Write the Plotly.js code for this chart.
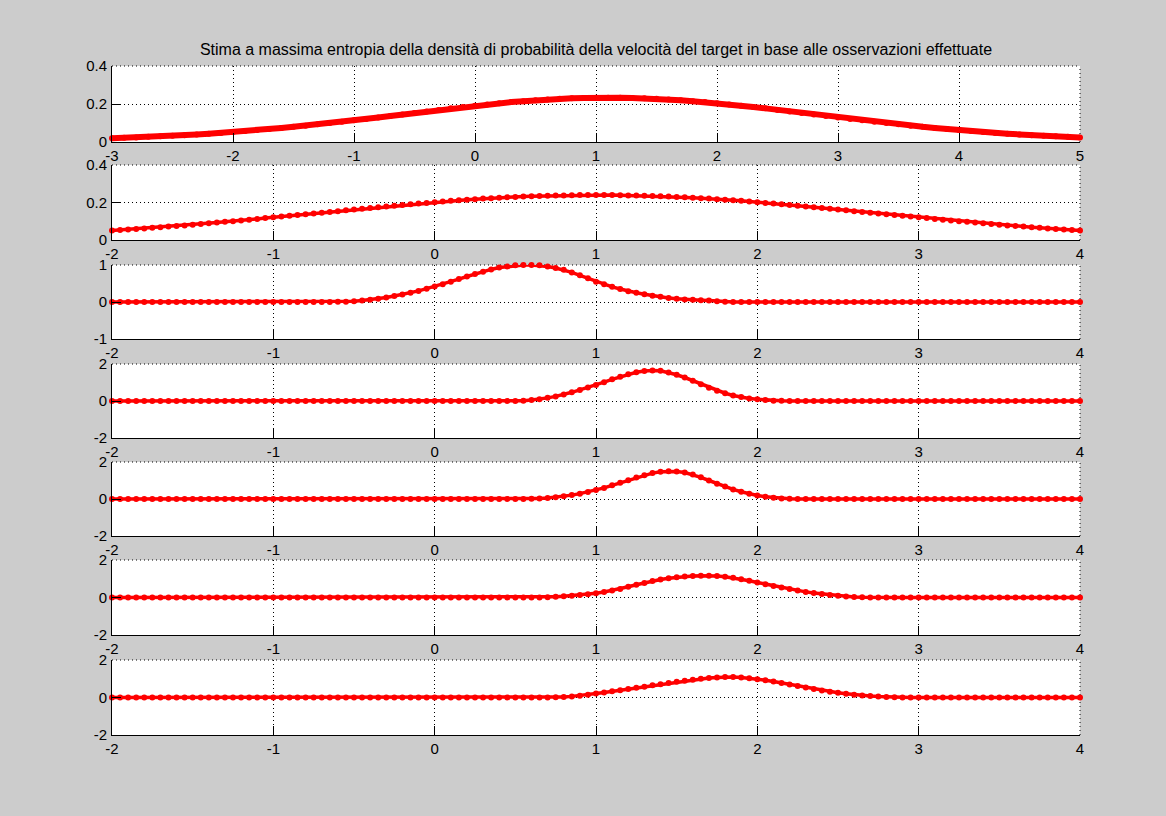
<!DOCTYPE html>
<html>
<head>
<meta charset="utf-8">
<script src="https://cdn.plot.ly/plotly-3.0.1.min.js"></script>
<style>html,body{margin:0;padding:0;background:#cccccc;}#chart{width:1166px;height:816px;}</style>
</head>
<body>
<div id="chart"></div>
<script>
// ---------- DATA ----------
const titleText = "Stima a massima entropia della densità di probabilità della velocità del target in base alle osservazioni effettuate";

// x grid of the first panel (-3 .. 5)
const x1 = [-3,-2.9,-2.8,-2.7,-2.6,-2.5,-2.4,-2.3,-2.2,-2.1,
-2,-1.9,-1.8,-1.7,-1.6,-1.5,-1.4,-1.3,-1.2,-1.1,
-1,-0.9,-0.8,-0.7,-0.6,-0.5,-0.4,-0.3,-0.2,-0.1,
0,0.1,0.2,0.3,0.4,0.5,0.6,0.7,0.8,0.9,
1,1.1,1.2,1.3,1.4,1.5,1.6,1.7,1.8,1.9,
2,2.1,2.2,2.3,2.4,2.5,2.6,2.7,2.8,2.9,
3,3.1,3.2,3.3,3.4,3.5,3.6,3.7,3.8,3.9,
4,4.1,4.2,4.3,4.4,4.5,4.6,4.7,4.8,4.9,
5];
const y1 = [.020,.022,.024,.027,.030,.033,.036,.040,.044,.048,
.053,.058,.063,.068,.074,.080,.086,.093,.100,.107,
.114,.121,.129,.137,.145,.153,.161,.169,.177,.184,
.191,.198,.204,.210,.215,.220,.224,.227,.230,.231,
.233,.233,.233,.231,.230,.227,.224,.220,.215,.210,
.204,.198,.191,.184,.177,.169,.161,.153,.145,.137,
.129,.121,.114,.107,.100,.093,.086,.080,.074,.068,
.063,.058,.053,.048,.044,.040,.036,.033,.030,.027,
.024];

// x grid of panels 2..7 (-2 .. 4)
const x2 = [-2,-1.95,-1.9,-1.85,-1.8,-1.75,-1.7,-1.65,-1.6,-1.55,
-1.5,-1.45,-1.4,-1.35,-1.3,-1.25,-1.2,-1.15,-1.1,-1.05,
-1,-0.95,-0.9,-0.85,-0.8,-0.75,-0.7,-0.65,-0.6,-0.55,
-0.5,-0.45,-0.4,-0.35,-0.3,-0.25,-0.2,-0.15,-0.1,-0.05,
0,0.05,0.1,0.15,0.2,0.25,0.3,0.35,0.4,0.45,
0.5,0.55,0.6,0.65,0.7,0.75,0.8,0.85,0.9,0.95,
1,1.05,1.1,1.15,1.2,1.25,1.3,1.35,1.4,1.45,
1.5,1.55,1.6,1.65,1.7,1.75,1.8,1.85,1.9,1.95,
2,2.05,2.1,2.15,2.2,2.25,2.3,2.35,2.4,2.45,
2.5,2.55,2.6,2.65,2.7,2.75,2.8,2.85,2.9,2.95,
3,3.05,3.1,3.15,3.2,3.25,3.3,3.35,3.4,3.45,
3.5,3.55,3.6,3.65,3.7,3.75,3.8,3.85,3.9,3.95,
4];

const y2 = [.051,.054,.056,.059,.062,.065,.068,.072,.075,.078,
.082,.085,.089,.093,.097,.100,.104,.108,.112,.117,
.121,.125,.129,.133,.137,.142,.146,.150,.154,.159,
.163,.167,.171,.175,.179,.183,.187,.191,.195,.198,
.202,.205,.209,.212,.215,.218,.221,.223,.226,.228,
.230,.232,.234,.235,.236,.237,.238,.239,.240,.240,
.240,.240,.240,.239,.238,.237,.236,.235,.234,.232,
.230,.228,.226,.223,.221,.218,.215,.212,.209,.205,
.202,.198,.195,.191,.187,.183,.179,.175,.171,.167,
.163,.159,.154,.150,.146,.142,.137,.133,.129,.125,
.121,.117,.112,.108,.104,.100,.097,.093,.089,.085,
.082,.078,.075,.072,.068,.065,.062,.059,.056,.054,
.051];

const y3 = [0,0,0,0,0,0,0,0,0,0,
0,0,0,0,0,0,0,0,0,0,
0,0,0,0,0,0,0,0,.005,.01,
.02,.04,.06,.09,.12,.16,.20,.25,.30,.36,
.42,.48,.55,.62,.69,.76,.82,.88,.93,.96,
.99,1.00,1.00,.99,.96,.92,.87,.80,.72,.64,
.55,.48,.41,.35,.29,.25,.21,.17,.14,.11,
.09,.07,.06,.05,.04,.02,.01,0,0,0,
0,0,0,0,0,0,0,0,0,0,
0,0,0,0,0,0,0,0,0,0,
0,0,0,0,0,0,0,0,0,0,
0,0,0,0,0,0,0,0,0,0,
0];

const y4 = [0,0,0,0,0,0,0,0,0,0,
0,0,0,0,0,0,0,0,0,0,
0,0,0,0,0,0,0,0,0,0,
0,0,0,0,0,0,0,0,0,0,
0,0,0,0,0,0,0,0,0,0,
0,.02,.05,.10,.17,.25,.35,.47,.60,.73,
.87,1.02,1.17,1.31,1.44,1.55,1.62,1.65,1.63,1.54,
1.42,1.27,1.10,.90,.72,.56,.42,.30,.21,.14,
.09,.05,.02,.01,0,0,0,0,0,0,
0,0,0,0,0,0,0,0,0,0,
0,0,0,0,0,0,0,0,0,0,
0,0,0,0,0,0,0,0,0,0,
0];

const y5 = [0,0,0,0,0,0,0,0,0,0,
0,0,0,0,0,0,0,0,0,0,
0,0,0,0,0,0,0,0,0,0,
0,0,0,0,0,0,0,0,0,0,
0,0,0,0,0,0,0,0,0,0,
0,0,.01,.03,.06,.10,.15,.21,.29,.38,
.48,.60,.74,.88,1.02,1.16,1.29,1.40,1.47,1.50,
1.49,1.43,1.32,1.17,1.00,.83,.67,.52,.39,.28,
.19,.12,.07,.03,.01,0,0,0,0,0,
0,0,0,0,0,0,0,0,0,0,
0,0,0,0,0,0,0,0,0,0,
0,0,0,0,0,0,0,0,0,0,
0];

const y6 = [0,0,0,0,0,0,0,0,0,0,
0,0,0,0,0,0,0,0,0,0,
0,0,0,0,0,0,0,0,0,0,
0,0,0,0,0,0,0,0,0,0,
0,0,0,0,0,0,0,0,0,0,
0,0,0,0,.02,.04,.07,.10,.14,.18,
.23,.29,.37,.46,.57,.68,.78,.88,.96,1.03,
1.08,1.12,1.15,1.16,1.16,1.15,1.11,1.05,.97,.89,
.80,.71,.62,.53,.45,.37,.30,.24,.19,.14,
.10,.06,.03,.01,0,0,0,0,0,0,
0,0,0,0,0,0,0,0,0,0,
0,0,0,0,0,0,0,0,0,0,
0];

const y7 = [0,0,0,0,0,0,0,0,0,0,
0,0,0,0,0,0,0,0,0,0,
0,0,0,0,0,0,0,0,0,0,
0,0,0,0,0,0,0,0,0,0,
0,0,0,0,0,0,0,0,0,0,
0,0,0,0,0,.01,.03,.06,.10,.15,
.21,.27,.33,.39,.45,.52,.58,.65,.71,.77,
.84,.90,.95,1.00,1.04,1.07,1.09,1.09,1.07,1.03,
.98,.92,.85,.77,.69,.61,.53,.45,.38,.31,
.25,.20,.15,.11,.08,.05,.03,.01,0,0,
0,0,0,0,0,0,0,0,0,0,
0,0,0,0,0,0,0,0,0,0,
0];

// axis ranges, tick values and tick labels per panel
const xRanges = [[-3,5],[-2,4],[-2,4],[-2,4],[-2,4],[-2,4],[-2,4]];
const yRanges = [[0,0.4],[0,0.4],[-1,1],[-2,2],[-2,2],[-2,2],[-2,2]];
const xTickVals1 = [-3,-2,-1,0,1,2,3,4,5];
const xTickText1 = ["-3","-2","-1","0","1","2","3","4","5"];
const xTickVals2 = [-2,-1,0,1,2,3,4];
const xTickText2 = ["-2","-1","0","1","2","3","4"];
const yTickValsA = [0,0.2,0.4];
const yTickTextA = ["0","0.2","0.4"];
const yTickValsB = [-1,0,1];
const yTickTextB = ["-1","0","1"];
const yTickValsC = [-2,0,2];
const yTickTextC = ["-2","0","2"];

const seriesX = [x1, x2, x2, x2, x2, x2, x2];
const seriesY = [y1, y2, y3, y4, y5, y6, y7];
const xTickV = [xTickVals1, xTickVals2, xTickVals2, xTickVals2, xTickVals2, xTickVals2, xTickVals2];
const xTickT = [xTickText1, xTickText2, xTickText2, xTickText2, xTickText2, xTickText2, xTickText2];
const yTickV = [yTickValsA, yTickValsA, yTickValsB, yTickValsC, yTickValsC, yTickValsC, yTickValsC];
const yTickT = [yTickTextA, yTickTextA, yTickTextB, yTickTextC, yTickTextC, yTickTextC, yTickTextC];

// ---------- LAYOUT ----------
const W = 1166, H = 816;
const plotLeft = 112, plotRight = 1080;
const panelPx = [[66,142],[165,240],[265,339],[364,438],[462,536],[560,635],[660,735]];

const fam = "'Liberation Sans', Arial, Helvetica, sans-serif";
const font = {family: fam, size: 15, color: '#000'};
const gridDash = '1px,3px';

const traces = [];
const layout = {
  width: W, height: H,
  margin: {l:0, r:0, t:0, b:0, pad:0},
  paper_bgcolor: '#cccccc',
  plot_bgcolor: '#ffffff',
  showlegend: false,
  font: font,
  title: {
    text: titleText,
    font: {family: fam, size: 16, color: '#000'},
    x: ((plotLeft + plotRight) / 2) / W, xanchor: 'center', xref: 'paper',
    y: 1 - 49 / H, yanchor: 'middle', yref: 'paper'
  },
  shapes: []
};

for (let k = 0; k < 7; k++) {
  const sfx = k === 0 ? '' : String(k + 1);
  const xa = 'xaxis' + sfx, ya = 'yaxis' + sfx;
  const [top, bot] = panelPx[k];
  layout[xa] = {
    domain: [plotLeft / W, plotRight / W],
    anchor: 'y' + sfx,
    range: xRanges[k],
    tickmode: 'array', tickvals: xTickV[k], ticktext: xTickT[k],
    ticks: 'inside', ticklen: 9, tickwidth: 1, tickcolor: '#000',
    ticklabelstandoff: 0,
    showline: true, linecolor: '#000', linewidth: 1,
    showgrid: true, gridcolor: '#000', gridwidth: 1, griddash: gridDash,
    zeroline: false, tickfont: font, fixedrange: true
  };
  layout[ya] = {
    domain: [1 - bot / H, 1 - top / H],
    anchor: 'x' + sfx,
    range: yRanges[k],
    tickmode: 'array', tickvals: yTickV[k], ticktext: yTickT[k],
    ticks: 'inside', ticklen: 9, tickwidth: 1, tickcolor: '#000',
    ticklabelstandoff: 1,
    showline: true, linecolor: '#000', linewidth: 1,
    showgrid: true, gridcolor: '#000', gridwidth: 1, griddash: gridDash,
    zeroline: false, tickfont: font, fixedrange: true
  };
  // dotted top and right edges (grid lines at the axis limits)
  layout.shapes.push({type:'line', xref:'x' + sfx + ' domain', yref:'y' + sfx + ' domain',
    x0:0, x1:1, y0:1, y1:1, line:{color:'#000', width:1, dash:gridDash}, layer:'below'});
  layout.shapes.push({type:'line', xref:'x' + sfx + ' domain', yref:'y' + sfx + ' domain',
    x0:1, x1:1, y0:0, y1:1, line:{color:'#000', width:1, dash:gridDash}, layer:'below'});

  traces.push({
    type: 'scatter', mode: 'lines+markers',
    x: seriesX[k], y: seriesY[k],
    xaxis: 'x' + sfx, yaxis: 'y' + sfx,
    line: {color: '#ff0000', width: k === 0 ? 6 : 3.5},
    marker: {color: '#ff0000', size: 6, symbol: 'circle', line: {width: 0}},
    cliponaxis: false,
    hoverinfo: 'x+y'
  });
}

Plotly.newPlot('chart', traces, layout, {displayModeBar: false, staticPlot: true});
</script>
</body>
</html>
